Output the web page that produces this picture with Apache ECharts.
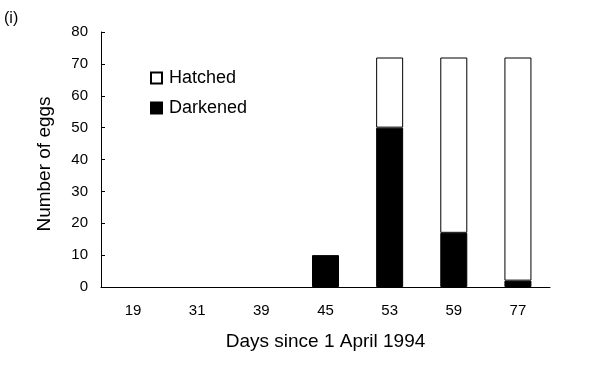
<!DOCTYPE html>
<html>
<head>
<meta charset="utf-8">
<script src="https://cdn.jsdelivr.net/npm/echarts@6/dist/echarts.min.js"></script>
<style>html,body{margin:0;padding:0;background:#fff}#c{width:614px;height:366px}</style>
</head>
<body>
<div id="c"></div>
<script>
var categories = ['19', '31', '39', '45', '53', '59', '77'];
var darkened = [0, 0, 0, 10, 50, 17, 2];
var hatched = [0, 0, 0, 0, 22, 55, 70];
var yTicks = [0, 10, 20, 30, 40, 50, 60, 70, 80];

function noZero(arr) { return arr.map(function (v) { return v === 0 ? '-' : v; }); }

var font = 'Liberation Sans, Arial, sans-serif';
var chart = echarts.init(document.getElementById('c'), null, {renderer: 'canvas'});
chart.setOption({
  animation: false,
  backgroundColor: '#fff',
  textStyle: {fontFamily: font, color: '#000'},
  graphic: [{type: 'text', left: 4, top: 11, style: {text: '(i)', font: '16px ' + font, fill: '#000'}}],
  legend: {
    data: ['Hatched', 'Darkened'],
    orient: 'vertical',
    left: 145, top: 64,
    itemWidth: 11, itemHeight: 11, itemGap: 12,
    icon: 'rect',
    textStyle: {fontSize: 18, color: '#000', fontFamily: font, padding: [0, 0, 0, 2]}
  },
  grid: {left: 101, right: 64, top: 32, bottom: 79},
  xAxis: {
    type: 'category',
    data: categories,
    name: 'Days since 1 April 1994',
    nameLocation: 'middle',
    nameGap: 45,
    nameTextStyle: {fontSize: 19, color: '#000', fontFamily: font},
    axisLine: {lineStyle: {color: '#000', width: 1}},
    axisTick: {inside: true, length: 4, lineStyle: {color: '#000'}},
    axisLabel: {fontSize: 15, color: '#000', margin: 16, fontFamily: font}
  },
  yAxis: {
    type: 'value',
    min: 0, max: 80, interval: 10,
    name: 'Number of eggs',
    nameLocation: 'middle',
    nameGap: 47,
    nameTextStyle: {fontSize: 19, color: '#000', fontFamily: font, padding: [0, 9, 0, 0]},
    axisLine: {show: true, lineStyle: {color: '#000', width: 1}},
    axisTick: {show: true, inside: true, length: 4, lineStyle: {color: '#000'}},
    axisLabel: {fontSize: 15, color: '#000', margin: 13, fontFamily: font,
      formatter: function (v) { return yTicks.indexOf(v) >= 0 ? String(v) : ''; }},
    splitLine: {show: false}
  },
  series: [
    {name: 'Darkened', type: 'bar', stack: 'a', data: noZero(darkened), barWidth: 27,
      itemStyle: {color: '#000', borderColor: '#000', borderWidth: 1}},
    {name: 'Hatched', type: 'bar', stack: 'a', data: noZero(hatched), barWidth: 27,
      itemStyle: {color: '#fff', borderColor: '#000', borderWidth: 1}}
  ]
});
</script>
</body>
</html>
